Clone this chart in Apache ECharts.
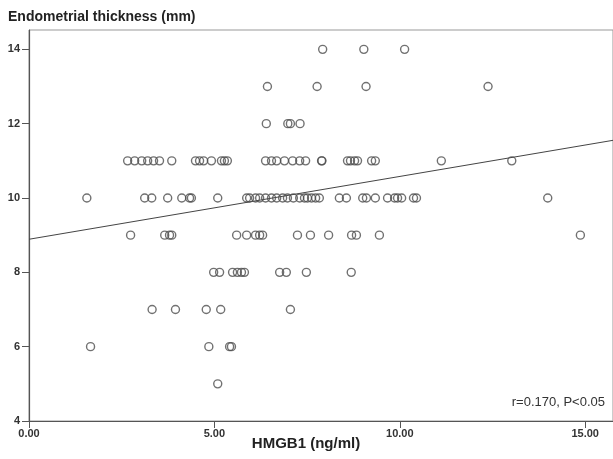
<!DOCTYPE html>
<html>
<head>
<meta charset="utf-8">
<script src="https://cdn.jsdelivr.net/npm/echarts@6/dist/echarts.min.js"></script>
<style>
  html, body { margin: 0; padding: 0; background: #fff; }
  #chart { width: 613px; height: 459px; }
</style>
</head>
<body>
<div id="chart"></div>
<script>
// HMGB1 (ng/ml) values for each endometrial thickness level (mm)
const row14 = [7.92, 9.03, 10.13]
const row13 = [6.43, 7.77, 9.09, 12.38]
const row12 = [6.40, 6.98, 7.05, 7.31]
const row11 = [2.66, 2.85, 3.04, 3.20, 3.36, 3.52, 3.85,
  4.49, 4.60, 4.71, 4.92, 5.19, 5.27, 5.35,
  6.38, 6.54, 6.68, 6.89, 7.11, 7.30, 7.46, 7.89, 7.90,
  8.59, 8.67, 8.78, 8.86, 9.24, 9.34, 11.12, 13.02]
const row10 = [1.56, 3.12, 3.31, 3.74, 4.12, 4.33, 4.38, 5.09,
  5.87, 5.95, 6.11, 6.22, 6.38, 6.54, 6.68, 6.84, 6.97, 7.13, 7.30, 7.43,
  7.51, 7.62, 7.73, 7.83, 8.37, 8.56, 9.00, 9.10, 9.34, 9.67, 9.86, 9.94,
  10.05, 10.37, 10.45, 13.99]
const row9 = [2.74, 3.66, 3.79, 3.85, 5.60, 5.87, 6.11, 6.22, 6.30,
  7.24, 7.59, 8.08, 8.70, 8.83, 9.45, 14.87]
const row8 = [4.98, 5.14, 5.49, 5.62, 5.73, 5.81, 6.76, 6.94, 7.48, 8.69]
const row7 = [3.32, 3.95, 4.78, 5.17, 7.05]
const row6 = [1.66, 4.85, 5.41, 5.46]
const row5 = [5.09]

const thicknessLevels = [14, 13, 12, 11, 10, 9, 8, 7, 6, 5]
const hmgbRows = [row14, row13, row12, row11, row10, row9, row8, row7, row6, row5]

// fit line
const fitIntercept = 8.89
const fitSlope = 0.169

const xMin = 0, xMax = 15.75
const yMin = 4, yMax = 14.52

const points = []
hmgbRows.forEach((row, i) => {
  row.forEach(x => points.push([x, thicknessLevels[i]]))
})

const fitLine = [xMin, xMax].map(x => [x, fitIntercept + fitSlope * x])

const chart = echarts.init(document.getElementById('chart'))

const labelFont = {
  color: '#333',
  fontSize: 11,
  fontWeight: 'bold',
  fontFamily: 'Liberation Sans, Arial, sans-serif'
}

chart.setOption({
  animation: false,
  title: {
    text: 'Endometrial thickness (mm)',
    left: 3,
    top: 5,
    textStyle: {
      color: '#222',
      fontSize: 14,
      fontWeight: 'bold',
      fontFamily: 'Liberation Sans, Arial, sans-serif'
    }
  },
  grid: {
    left: 29,
    right: 0,
    top: 30,
    bottom: 38,
    outerBoundsMode: 'none',
    containLabel: false,
    show: true,
    borderColor: '#999',
    borderWidth: 1
  },
  xAxis: {
    type: 'value',
    min: xMin,
    max: xMax,
    interval: 5,
    name: 'HMGB1 (ng/ml)',
    nameLocation: 'middle',
    nameGap: 15,
    nameMoveOverlap: false,
    nameTextStyle: {
      color: '#222',
      fontSize: 15,
      fontWeight: 'bold',
      fontFamily: 'Liberation Sans, Arial, sans-serif',
      padding: [0, 30, 0, 0]
    },
    axisLine: { lineStyle: { color: '#555', width: 1.2 } },
    axisTick: { show: true, length: 7, lineStyle: { color: '#555' } },
    axisLabel: Object.assign({ margin: 7, showMaxLabel: false, formatter: v => v.toFixed(2) }, labelFont),
    splitLine: { show: false }
  },
  yAxis: {
    type: 'value',
    min: yMin,
    max: yMax,
    interval: 2,
    axisLine: { show: true, lineStyle: { color: '#555', width: 1.2 } },
    axisTick: { show: true, length: 7, lineStyle: { color: '#555' } },
    axisLabel: Object.assign({ margin: 9, showMaxLabel: false }, labelFont),
    splitLine: { show: false }
  },
  graphic: [
    {
      type: 'text',
      right: 8,
      top: 396,
      style: {
        text: 'r=0.170, P<0.05',
        fill: '#333',
        font: '13px Liberation Sans, Arial, sans-serif'
      }
    }
  ],
  series: [
    {
      type: 'line',
      data: fitLine,
      symbol: 'none',
      lineStyle: { color: '#444', width: 1 },
      silent: true,
      z: 1
    },
    {
      type: 'scatter',
      data: points,
      symbol: 'circle',
      symbolSize: 8,
      itemStyle: {
        color: 'rgba(0,0,0,0)',
        borderColor: '#4d4d4d',
        borderWidth: 1.4
      },
      z: 2
    }
  ]
})
</script>
</body>
</html>
